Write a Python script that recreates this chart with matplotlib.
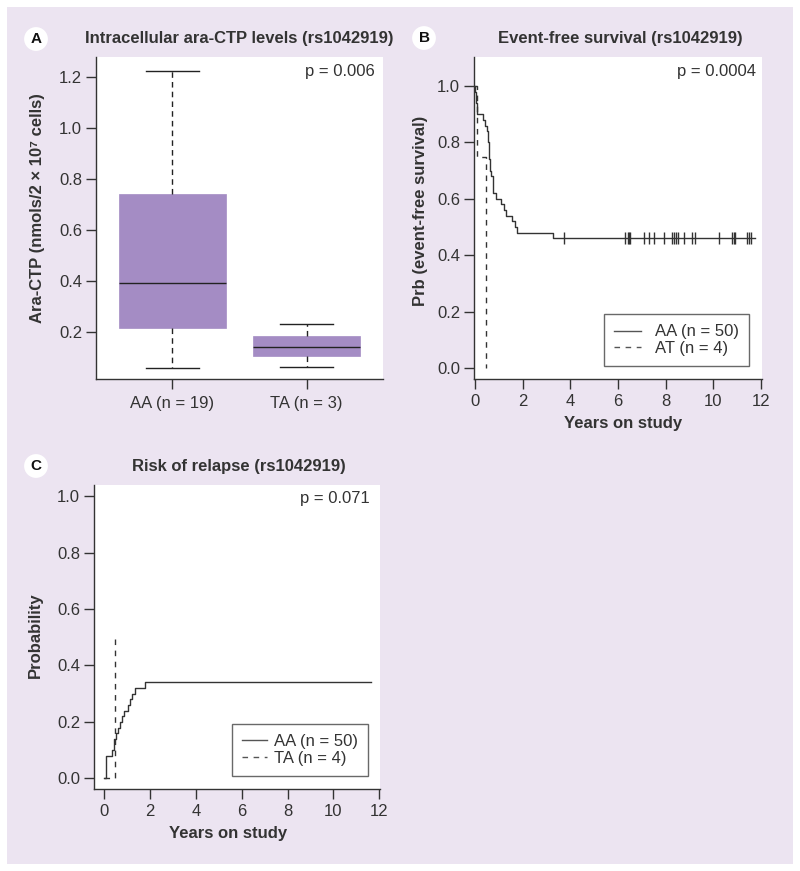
import matplotlib
matplotlib.use("Agg")
import matplotlib.pyplot as plt
from matplotlib.patches import Rectangle

plt.rcParams['font.family'] = ['Liberation Sans', 'DejaVu Sans']

# ---------------- data ----------------
# Panel A: boxplot stats (ara-CTP, nmols/2x10^7 cells)
box_labels = ["AA (n = 19)", "TA (n = 3)"]
box_whislo = [0.06, 0.063]
box_q1 = [0.215, 0.106]
box_med = [0.392, 0.141]
box_q3 = [0.741, 0.184]
box_whishi = [1.224, 0.231]

# Panel B: event-free survival (Kaplan-Meier steps)
efs_aa_t = [0, 0.02, 0.04, 0.05, 0.07, 0.09, 0.34, 0.44, 0.50, 0.53, 0.55, 0.58,
            0.60, 0.61, 0.63, 0.64, 0.66, 0.74, 0.75, 0.76, 0.90, 1.11, 1.22,
            1.32, 1.56, 1.66, 1.77, 3.29, 11.76]
efs_aa_v = [1.0, 0.98, 0.96, 0.94, 0.92, 0.90, 0.88, 0.86, 0.84, 0.82, 0.80, 0.78,
            0.76, 0.74, 0.72, 0.70, 0.68, 0.66, 0.64, 0.62, 0.60, 0.58, 0.56,
            0.54, 0.52, 0.50, 0.48, 0.46, 0.46]
efs_aa_censor = [3.75, 6.31, 6.43, 6.48, 6.52, 7.10, 7.31, 7.52, 7.94, 8.28, 8.36,
                 8.45, 8.53, 8.78, 9.12, 9.24, 10.24, 10.80, 10.88, 10.92, 11.43,
                 11.51, 11.58]
efs_aa_censor_v = 0.46
efs_at_t = [0, 0.08, 0.48]
efs_at_v = [1.0, 0.75, 0.0]

# Panel C: cumulative incidence of relapse
rel_aa_t = [0, 0.07, 0.32, 0.44, 0.52, 0.61, 0.68, 0.76, 0.87, 1.02, 1.12, 1.22,
            1.34, 1.78, 11.64]
rel_aa_v = [0.0, 0.08, 0.10, 0.14, 0.16, 0.18, 0.20, 0.22, 0.24, 0.26, 0.28, 0.30,
            0.32, 0.34, 0.34]
rel_ta_t = [0, 0.47]
rel_ta_v = [0.0, 0.5]

p_values = ["p = 0.006", "p = 0.0004", "p = 0.071"]

# ---------------- figure ----------------
W, H = 800, 871
fig = plt.figure(figsize=(W / 100, H / 100), dpi=100)
fig.patch.set_facecolor('white')
BG = '#ece4f1'
INK = '#333333'
LEGINK = '#444444'
BOX = '#a48cc4'

def fx(x):
    return x / W

def fy(y):
    return 1 - y / H

fig.patches.append(Rectangle((fx(7), fy(864)), fx(786), (864 - 7) / H,
                             transform=fig.transFigure, facecolor=BG,
                             edgecolor='none', zorder=-10))

def make_ax(l, t, r, b):
    ax = fig.add_axes([fx(l), fy(b), (r - l) / W, (b - t) / H])
    ax.set_facecolor('white')
    for s in ['top', 'right']:
        ax.spines[s].set_visible(False)
    for s in ['left', 'bottom']:
        ax.spines[s].set_color(INK)
        ax.spines[s].set_linewidth(1.0)
    ax.tick_params(colors=INK, labelcolor=INK, labelsize=12, length=7, width=1,
                   direction='out', pad=3)
    return ax

def panel_letter(x, y, letter):
    fig.text(fx(x), fy(y), letter, fontsize=11, fontweight='bold', color='#111111',
             ha='center', va='center',
             bbox=dict(boxstyle='circle,pad=0.32', fc='white', ec='none'))

def style_legend(leg):
    fr = leg.get_frame()
    fr.set_edgecolor(LEGINK)
    fr.set_linewidth(1.0)
    for t in leg.get_texts():
        t.set_color(INK)
    for h in leg.get_lines():
        h.set_color('#555555')

TFS = 12

# ---------- Panel A ----------
axA = make_ax(96, 57, 383, 379)
stats = []
for i in range(len(box_labels)):
    stats.append(dict(med=box_med[i], q1=box_q1[i], q3=box_q3[i],
                      whislo=box_whislo[i], whishi=box_whishi[i], fliers=[]))
axA.bxp(stats, positions=[1, 2], widths=0.8, patch_artist=True, showfliers=False,
        boxprops=dict(facecolor=BOX, edgecolor=BOX, linewidth=0.5),
        medianprops=dict(color='#222222', linewidth=1.0),
        whiskerprops=dict(color='#222222', linewidth=1.0, linestyle=(0, (4, 3))),
        capprops=dict(color='#222222', linewidth=1.0), capwidths=0.4)
axA.set_xlim(0.43, 2.57)
axA.set_ylim(0.016, 1.278)
axA.set_yticks([0.2, 0.4, 0.6, 0.8, 1.0, 1.2])
axA.set_yticklabels(['0.2', '0.4', '0.6', '0.8', '1.0', '1.2'])
axA.set_xticks([1, 2])
axA.set_xticklabels(box_labels)
axA.tick_params(axis='x', pad=5)
axA.text(0.97, 0.955, p_values[0], transform=axA.transAxes, ha='right', va='center',
         fontsize=12, color=INK)
fig.text(fx(239), fy(38), "Intracellular ara-CTP levels (rs1042919)", ha='center',
         va='center', fontsize=TFS, fontweight='bold', color=INK)
fig.text(fx(38), fy(208), "Ara-CTP (nmols/2 \u00d7 10\u2077 cells)", rotation=90,
         ha='center', va='center', fontsize=12, fontweight='bold', color=INK)
panel_letter(36, 39, 'A')

# ---------- Panel B ----------
axB = make_ax(474, 57, 762, 379)
axB.step(efs_aa_t, efs_aa_v, where='post', color=INK, linewidth=1.0,
         label='AA (n = 50)')
axB.plot(efs_aa_censor, [efs_aa_censor_v] * len(efs_aa_censor), linestyle='none',
         marker='|', markersize=8, markeredgewidth=1.0, color=INK)
axB.step(efs_at_t, efs_at_v, where='post', color=INK, linewidth=1.0,
         linestyle=(0, (4, 4)), label='AT (n = 4)')
axB.set_xlim(-0.04, 12.04)
axB.set_ylim(-0.039, 1.103)
axB.set_xticks([0, 2, 4, 6, 8, 10, 12])
axB.set_yticks([0.0, 0.2, 0.4, 0.6, 0.8, 1.0])
axB.set_yticklabels(['0.0', '0.2', '0.4', '0.6', '0.8', '1.0'])
axB.tick_params(axis='x', pad=4)
axB.text(0.98, 0.955, p_values[1], transform=axB.transAxes, ha='right', va='center',
         fontsize=12, color=INK)
legB = axB.legend(loc='lower right', bbox_to_anchor=(0.955, 0.04), fontsize=12,
                  frameon=True, fancybox=False, handlelength=1.6, borderpad=0.6,
                  labelspacing=0.1, handletextpad=0.85, borderaxespad=0)
style_legend(legB)
fig.text(fx(620), fy(38), "Event-free survival (rs1042919)", ha='center',
         va='center', fontsize=TFS, fontweight='bold', color=INK)
fig.text(fx(420), fy(211), "Prb (event-free survival)", rotation=90,
         ha='center', va='center', fontsize=12, fontweight='bold', color=INK)
fig.text(fx(623), fy(423), "Years on study", ha='center', va='center',
         fontsize=12, fontweight='bold', color=INK)
panel_letter(424, 38, 'B')

# ---------- Panel C ----------
axC = make_ax(94, 485, 380, 789)
axC.step(rel_aa_t, rel_aa_v, where='post', color=INK, linewidth=1.0,
         label='AA (n = 50)')
axC.step(rel_ta_t, rel_ta_v, where='post', color=INK, linewidth=1.0,
         linestyle=(0, (4, 4)), label='TA (n = 4)')
axC.set_xlim(-0.45, 12.03)
axC.set_ylim(-0.038, 1.04)
axC.set_xticks([0, 2, 4, 6, 8, 10, 12])
axC.set_yticks([0.0, 0.2, 0.4, 0.6, 0.8, 1.0])
axC.set_yticklabels(['0.0', '0.2', '0.4', '0.6', '0.8', '1.0'])
axC.tick_params(axis='x', pad=4)
axC.text(0.965, 0.955, p_values[2], transform=axC.transAxes, ha='right', va='center',
         fontsize=12, color=INK)
legC = axC.legend(loc='lower right', bbox_to_anchor=(0.958, 0.043), fontsize=12,
                  frameon=True, fancybox=False, handlelength=1.5, borderpad=0.6,
                  labelspacing=0.1, handletextpad=0.4, borderaxespad=0)
style_legend(legC)
fig.text(fx(239), fy(466), "Risk of relapse (rs1042919)", ha='center',
         va='center', fontsize=TFS, fontweight='bold', color=INK)
fig.text(fx(35), fy(635), "Probability", rotation=90,
         ha='center', va='center', fontsize=12, fontweight='bold', color=INK)
fig.text(fx(228), fy(833), "Years on study", ha='center', va='center',
         fontsize=12, fontweight='bold', color=INK)
panel_letter(36, 466, 'C')

fig.savefig('out.png', dpi=100, facecolor='white')
